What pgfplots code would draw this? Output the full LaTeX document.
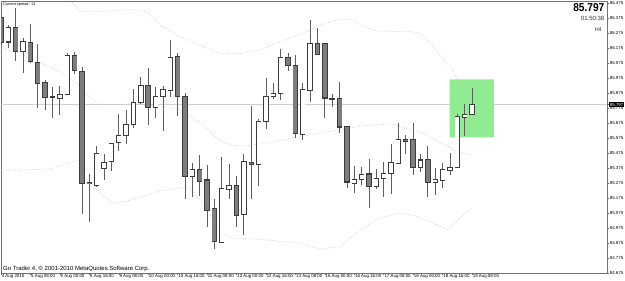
\documentclass[border=0pt]{standalone}
\usepackage{pgfplots}
\pgfplotsset{compat=1.18}
\usepackage{pgfplotstable}
\usepackage{graphicx}
\usepackage{fontspec}
\setmainfont{Liberation Sans}
\definecolor{outl}{RGB}{60,60,60}
\definecolor{bearfill}{RGB}{125,125,125}
\definecolor{wick}{RGB}{95,95,95}
\definecolor{band}{RGB}{200,192,178}
\definecolor{hilite}{RGB}{144,236,144}

\pgfplotstableread{
i l lo hi h
1 86.175 86.217 86.313 86.3283
3 86.0063 86.155 86.217 86.2397
8 85.7283 85.8397 85.8663 85.9217
9 85.8663 85.8663 86.1217 86.1437
13 85.2463 85.2597 85.473 85.5217
14 85.295 85.373 85.413 85.4663
15 85.357 85.417 85.5397 85.5397
16 85.4903 85.5437 85.5903 85.733
17 85.535 85.5903 85.6663 85.7617
18 85.6397 85.6663 85.813 85.8997
19 85.8017 85.813 85.9217 85.9797
21 85.7063 85.7797 85.8503 85.917
22 85.6237 85.8503 85.8997 85.9217
23 85.8503 85.895 86.113 86.2283
26 85.1837 85.3217 85.3663 85.4063
30 84.873 84.8797 85.2397 85.4503
31 85.173 85.235 85.255 85.4017
33 84.9283 85.0663 85.417 85.4683
35 85.255 85.3997 85.6837 85.6997
36 85.633 85.6837 85.8503 85.973
37 85.833 85.8503 85.873 85.9397
38 85.8283 85.873 86.113 86.1663
41 85.5617 85.5997 85.895 85.9437
42 85.817 85.895 86.2063 86.3617
45 85.7837 85.837 85.8417 85.8663
48 85.2063 85.277 85.2997 85.3883
49 85.2617 85.2997 85.335 85.3837
51 85.233 85.2503 85.3063 85.3663
52 85.1837 85.3063 85.3397 85.417
53 85.1997 85.3397 85.413 85.533
54 85.4063 85.4103 85.5663 85.677
57 85.3463 85.3797 85.4283 85.4683
59 85.195 85.277 85.295 85.377
60 85.2397 85.2903 85.3617 85.4063
61 85.3283 85.357 85.3797 85.473
62 85.377 85.377 85.717 85.735
63 85.5883 85.713 85.733 85.8017
64 85.733 85.733 85.797 85.9103
}\bulltab

\pgfplotstableread{
i l lo hi h
0 86.195 86.215 86.375 86.395
2 86.0903 86.155 86.313 86.4397
4 86.073 86.0837 86.213 86.335
5 85.773 85.9437 86.0797 86.1997
6 85.7617 85.8437 85.9463 85.9617
7 85.7063 85.8437 85.8483 85.913
10 86.0017 86.0237 86.1263 86.1503
11 85.0663 85.273 86.0217 86.0503
12 85.017 85.273 85.2797 85.335
20 85.6617 85.7797 85.9217 86.0397
24 85.7217 85.855 86.117 86.1397
25 85.1663 85.3217 85.8503 85.873
27 85.1883 85.2883 85.3663 85.4617
28 84.9837 85.095 85.295 85.395
29 84.833 84.8883 85.1017 85.1663
32 84.9797 85.0617 85.255 85.3217
34 85.1663 85.3997 85.413 85.7883
39 86.0237 86.0617 86.113 86.1437
40 85.573 85.6063 86.057 86.1283
43 86.135 86.135 86.2063 86.3063
44 85.713 85.8437 86.2063 86.2103
46 85.6063 85.6503 85.8397 85.9503
47 85.2397 85.2837 85.6503 85.655
50 85.1063 85.255 85.335 85.433
55 85.4663 85.557 85.5637 85.595
56 85.3283 85.3797 85.5617 85.673
58 85.1837 85.2797 85.435 85.5217
}\beartab

\pgfplotstableread{
x y
9.0 86.515
9.6 86.4837
10.7 86.417
13.5 86.417
17.9 86.433
19.8 86.417
21.6 86.3283
24.3 86.2503
27.0 86.195
29.8 86.1397
32.5 86.1397
35.2 86.1617
37.9 86.217
40.6 86.2617
43.3 86.3283
46.1 86.3663
47.9 86.3617
49.2 86.317
51.5 86.2837
55.6 86.2837
57.0 86.273
58.5 86.2
59.6 86.1283
61.4 86.0283
62.4 85.917
63.3 85.8503
64.0 85.8283
}\uppertab

\pgfplotstableread{
x y
0 86.175
2.58 86.1417
5.3 86.075
8.02 86.015
10.33 85.935
11.68 85.8617
12.77 85.8217
13.45 85.8017
15.22 85.795
19.29 85.8083
21.6 85.7883
24.32 85.7617
25.68 85.7217
27.04 85.6817
29.76 85.555
31.93 85.5217
34.24 85.5283
36.96 85.5483
38.04 85.5617
40.49 85.5817
43.21 85.6083
45.92 85.6283
48.64 85.655
50.68 85.6617
53.12 85.6683
54.89 85.6417
57.2 85.6083
59.51 85.5483
61.0 85.515
61.68 85.4883
64 85.4617
}\middletab

\pgfplotstableread{
x y
0 85.3617
2.58 85.3617
6.66 85.3683
9.65 85.415
10.73 85.4283
12.09 85.335
13.45 85.2083
15.22 85.1383
17.12 85.155
19.29 85.185
21.6 85.2217
23.37 85.235
25.41 85.2517
27.04 85.1617
28.4 85.0617
29.76 84.9483
31.52 84.9083
36.14 84.895
40.63 84.875
43.34 84.835
46.06 84.8503
48.78 84.9617
51.49 85.0417
54.21 85.075
55.98 85.0617
58.7 85.0083
60.73 84.965
62.36 85.0417
64 85.1083
}\lowertab

\pgfplotsset{
  wickplot/.style={draw=none, mark=none, forget plot,
    error bars/.cd, y dir=both, y explicit, error mark=none,
    error bar style={draw=wick, line width=0.8pt, solid}},
  bodyout/.style={draw=none, mark=none, forget plot,
    error bars/.cd, y dir=both, y explicit, error mark=none,
    error bar style={draw=outl, line width=5.4pt, solid, line cap=butt}},
  bodyin/.style={draw=none, mark=none, forget plot,
    error bars/.cd, y dir=both, y explicit, error mark=none,
    error bar style={draw=#1, line width=3.9pt, solid, line cap=butt}},
}

\begin{document}
\begin{tikzpicture}
\path[use as bounding box] (0,0) rectangle (625pt,-281pt);
\begin{axis}[
  at={(1pt,-1pt)}, anchor=north west,
  scale only axis, width=606pt, height=272pt,
  xmin=0, xmax=82.34, ymin=84.675, ymax=86.4883,
  axis line style={draw=black!55, line width=0.5pt},
  tick align=outside, major tick length=2pt,
  tick style={draw=black!60, line width=0.5pt},
  xtick pos=left, ytick pos=right, yticklabel pos=right,
  xtick={0,4,...,64},
  xticklabels={4 Aug 2010,5 Aug 08:00,6 Aug 00:00,6 Aug 16:00,9 Aug 08:00,10 Aug 00:00,10 Aug 16:00,11 Aug 08:00,12 Aug 00:00,12 Aug 16:00,13 Aug 08:00,16 Aug 00:00,16 Aug 16:00,17 Aug 08:00,18 Aug 00:00,18 Aug 16:00,19 Aug 08:00},
  xticklabel style={font=\fontsize{4.4pt}{5pt}\selectfont, anchor=north west, inner sep=0pt, xshift=0.6pt, yshift=0.3pt},
  ytick={84.675,84.775,84.875,84.975,85.075,85.175,85.275,85.375,85.475,85.575,85.675,85.775,85.875,85.975,86.075,86.175,86.275,86.375,86.475},
  yticklabels={84.675,84.775,84.875,84.975,85.075,85.175,85.275,85.375,85.475,85.575,85.675,85.775,85.875,85.975,86.075,86.175,86.275,86.375,86.475},
  yticklabel style={font=\fontsize{4.4pt}{5pt}\selectfont, anchor=west, inner sep=0.6pt},
  extra y ticks={85.797},
  extra y tick labels={85.797},
  extra y tick style={grid=major, major grid style={draw=black!18, line width=0.7pt},
    yticklabel style={fill=black, text=white, inner sep=0.7pt}},
]
\addplot[draw=none, fill=hilite] coordinates {(60.96,85.5797) (66.98,85.5797) (66.98,85.9663) (60.96,85.9663) (60.96,85.5797)};
\addplot[band, line width=0.55pt, dash pattern=on 0.8pt off 1.6pt] table[x=x, y=y] {\uppertab};
\addplot[band, line width=0.55pt, dash pattern=on 0.8pt off 1.6pt] table[x=x, y=y] {\middletab};
\addplot[band, line width=0.55pt, dash pattern=on 0.8pt off 1.6pt] table[x=x, y=y] {\lowertab};
% wicks (high-low)
\addplot[wickplot] table[x=i, y expr={(\thisrow{h}+\thisrow{l})/2}, y error expr={(\thisrow{h}-\thisrow{l})/2}] {\bulltab};
\addplot[wickplot] table[x=i, y expr={(\thisrow{h}+\thisrow{l})/2}, y error expr={(\thisrow{h}-\thisrow{l})/2}] {\beartab};
% bodies: outline
\addplot[bodyout] table[x=i, y expr={(\thisrow{hi}+\thisrow{lo})/2}, y error expr={(\thisrow{hi}-\thisrow{lo})/2+0.0045}] {\bulltab};
\addplot[bodyout] table[x=i, y expr={(\thisrow{hi}+\thisrow{lo})/2}, y error expr={(\thisrow{hi}-\thisrow{lo})/2+0.0045}] {\beartab};
% bodies: fill
\addplot[bodyin=white] table[x=i, y expr={(\thisrow{hi}+\thisrow{lo})/2}, y error expr={max((\thisrow{hi}-\thisrow{lo})/2-0.0025,0)}] {\bulltab};
\addplot[bodyin=bearfill] table[x=i, y expr={(\thisrow{hi}+\thisrow{lo})/2}, y error expr={max((\thisrow{hi}-\thisrow{lo})/2-0.0025,0)}] {\beartab};
\end{axis}
\node[anchor=west, inner sep=0pt, font=\fontsize{3.8pt}{4.5pt}\selectfont] at (3pt,-4.5pt) {Current spread: 13};
\node[anchor=west, inner sep=0pt, font=\fontsize{6pt}{7pt}\selectfont] at (3pt,-268.5pt) {Go Trader 4, © 2001-2010 MetaQuotes Software Corp.};
\node[anchor=east, inner sep=0pt, font=\bfseries\fontsize{11.5pt}{13pt}\selectfont] at (604.5pt,-8pt) {\scalebox{0.88}[1]{85.797}};
\node[anchor=east, inner sep=0pt, font=\fontsize{6pt}{7pt}\selectfont, text=black!80] at (604.5pt,-18pt) {01:50:38};
\node[anchor=east, inner sep=0pt, font=\fontsize{5.5pt}{6.5pt}\selectfont, text=black!80] at (602pt,-29.7pt) {H4};
\end{tikzpicture}
\end{document}
